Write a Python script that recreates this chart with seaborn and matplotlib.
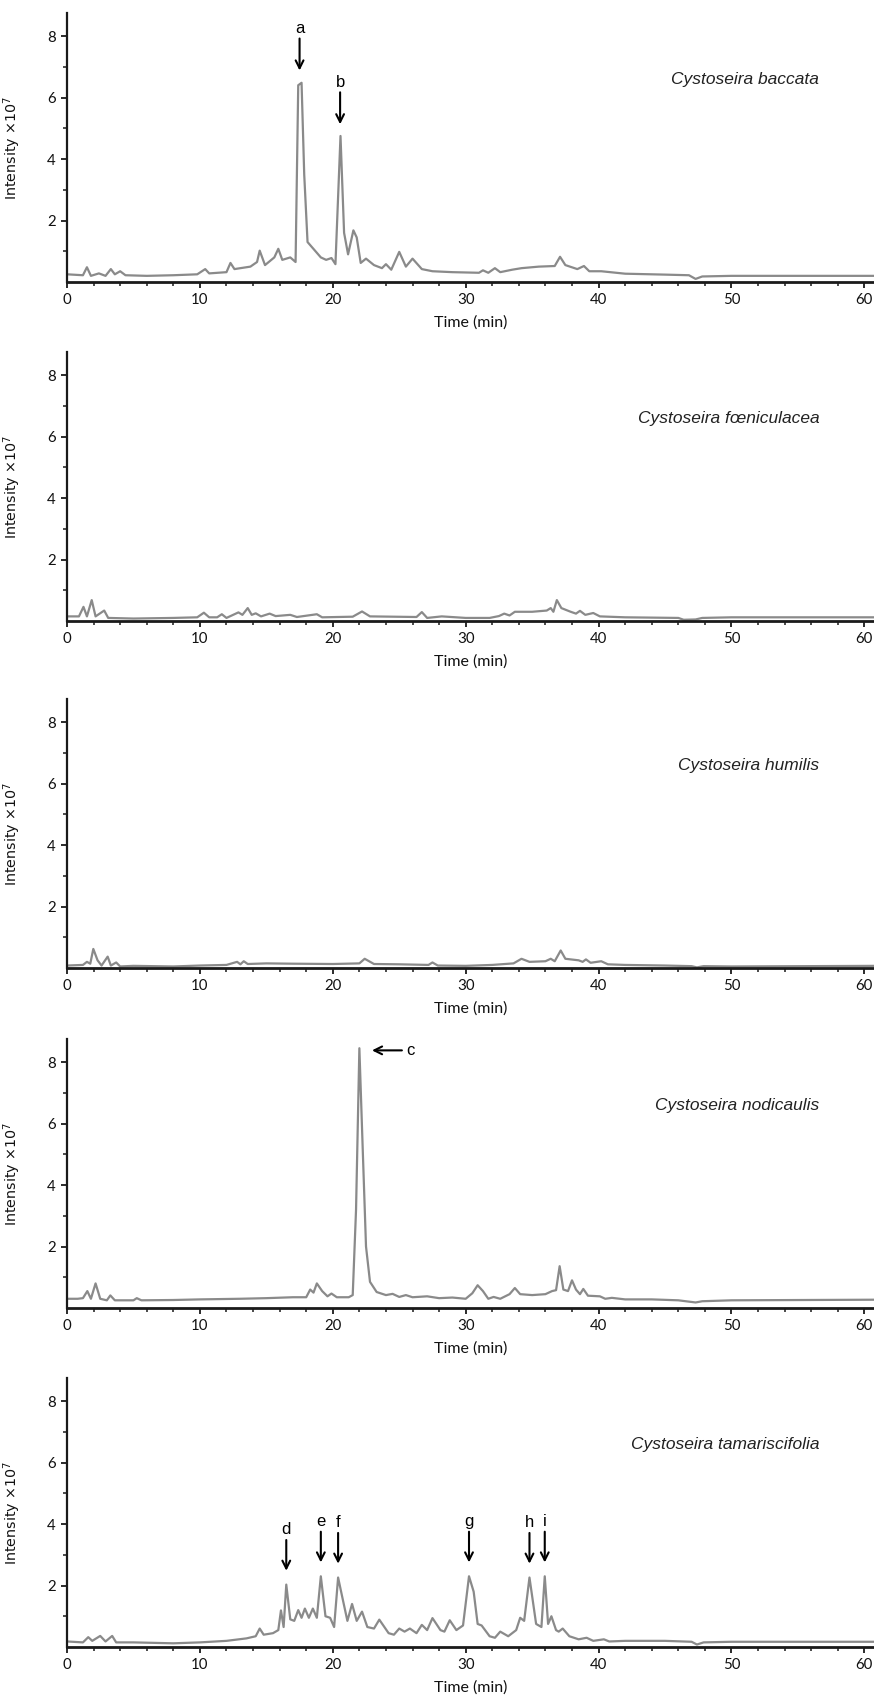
import numpy as np
import pandas as pd
import matplotlib
matplotlib.use("Agg")
import matplotlib.pyplot as plt
from matplotlib.ticker import MultipleLocator, FixedLocator
import seaborn as sns

# ---------------- data (time in min, intensity x10^7) ----------------
species = ["Cystoseira baccata", "Cystoseira fœniculacea", "Cystoseira humilis",
           "Cystoseira nodicaulis", "Cystoseira tamariscifolia"]

baccata = [(0, 0.25), (1.2, 0.22), (1.5, 0.48), (1.8, 0.2), (2.4, 0.28), (2.9, 0.2), (3.3, 0.42),
           (3.6, 0.25), (4.0, 0.35), (4.4, 0.22), (6, 0.2), (8, 0.22), (9.8, 0.25), (10.4, 0.42),
           (10.7, 0.28), (12.0, 0.32), (12.3, 0.62), (12.6, 0.42), (13.8, 0.5), (14.3, 0.65),
           (14.5, 1.02), (14.9, 0.55), (15.6, 0.8), (15.9, 1.08), (16.2, 0.72), (16.8, 0.8),
           (17.2, 0.65), (17.4, 6.4), (17.65, 6.48), (17.85, 3.5), (18.1, 1.3), (18.6, 1.05),
           (19.1, 0.8), (19.5, 0.72), (19.9, 0.78), (20.2, 0.58), (20.58, 4.75), (20.85, 1.6),
           (21.15, 0.9), (21.55, 1.68), (21.8, 1.45), (22.1, 0.62), (22.5, 0.76), (23.1, 0.55),
           (23.7, 0.45), (24.0, 0.58), (24.4, 0.4), (25.0, 0.98), (25.5, 0.5), (26.0, 0.76),
           (26.7, 0.42), (27.5, 0.35), (29, 0.32), (31.0, 0.3), (31.3, 0.38), (31.7, 0.3),
           (32.2, 0.45), (32.6, 0.32), (33.5, 0.4), (34.2, 0.45), (35.5, 0.5), (36.7, 0.52),
           (37.1, 0.82), (37.5, 0.55), (38.4, 0.42), (38.9, 0.52), (39.3, 0.35), (40.2, 0.35),
           (42, 0.27), (45, 0.24), (46.8, 0.22), (47.3, 0.1), (47.8, 0.18), (50, 0.2), (55, 0.2),
           (61, 0.2)]

foeniculacea = [(0, 0.15), (0.9, 0.15), (1.24, 0.46), (1.5, 0.15), (1.86, 0.68), (2.15, 0.15),
                (2.8, 0.34), (3.1, 0.1), (5, 0.08), (8, 0.1), (9.8, 0.12), (10.3, 0.27), (10.7, 0.12),
                (11.3, 0.12), (11.65, 0.22), (12.0, 0.1), (12.5, 0.2), (12.9, 0.28), (13.2, 0.2),
                (13.6, 0.42), (13.9, 0.2), (14.2, 0.25), (14.6, 0.15), (15.25, 0.24), (15.7, 0.16),
                (16.8, 0.2), (17.3, 0.13), (18.8, 0.22), (19.2, 0.12), (21.5, 0.14), (22.2, 0.31),
                (22.8, 0.15), (26.3, 0.13), (26.7, 0.29), (27.1, 0.1), (28.2, 0.15), (30, 0.1),
                (31.8, 0.1), (32.5, 0.16), (32.9, 0.24), (33.3, 0.18), (33.7, 0.3), (35, 0.3),
                (36.1, 0.34), (36.4, 0.42), (36.6, 0.3), (36.86, 0.68), (37.2, 0.42), (37.9, 0.3),
                (38.3, 0.24), (38.6, 0.33), (39.0, 0.2), (39.6, 0.26), (40.1, 0.15), (42, 0.12),
                (46, 0.1), (46.4, 0.04), (47.3, 0.05), (47.8, 0.1), (50, 0.12), (61, 0.12)]

humilis = [(0, 0.08), (1.2, 0.1), (1.5, 0.2), (1.75, 0.14), (1.98, 0.62), (2.3, 0.25), (2.6, 0.08),
           (3.06, 0.37), (3.3, 0.08), (3.7, 0.18), (4.0, 0.05), (5, 0.07), (8, 0.05), (10, 0.08),
           (12, 0.1), (12.8, 0.2), (13.05, 0.12), (13.3, 0.22), (13.6, 0.13), (15, 0.15), (17, 0.14),
           (20, 0.13), (22.0, 0.15), (22.4, 0.3), (23.1, 0.13), (25, 0.12), (27.2, 0.1), (27.5, 0.18),
           (27.9, 0.08), (30, 0.07), (32, 0.1), (33.6, 0.15), (34.2, 0.3), (34.8, 0.2), (36.0, 0.22),
           (36.4, 0.3), (36.7, 0.22), (37.15, 0.57), (37.5, 0.3), (38.5, 0.25), (38.8, 0.2),
           (39.05, 0.28), (39.4, 0.17), (40.2, 0.22), (40.7, 0.12), (42, 0.1), (45, 0.08), (47, 0.06),
           (47.4, 0.02), (47.9, 0.06), (50, 0.05), (61, 0.07)]

nodicaulis = [(0, 0.3), (0.8, 0.3), (1.2, 0.32), (1.53, 0.55), (1.8, 0.3), (2.15, 0.8), (2.5, 0.3),
              (3.0, 0.25), (3.26, 0.41), (3.6, 0.25), (5.0, 0.25), (5.25, 0.32), (5.6, 0.25), (8, 0.26),
              (10, 0.28), (13, 0.3), (15, 0.32), (17, 0.35), (18.0, 0.35), (18.3, 0.6), (18.55, 0.5),
              (18.8, 0.8), (19.2, 0.55), (19.6, 0.38), (19.9, 0.47), (20.3, 0.35), (21.2, 0.35),
              (21.5, 0.42), (21.75, 3.2), (22.0, 8.45), (22.25, 5.2), (22.5, 2.0), (22.8, 0.85),
              (23.3, 0.52), (24.0, 0.42), (24.5, 0.46), (25.0, 0.36), (25.5, 0.42), (26.0, 0.35),
              (27.1, 0.38), (28, 0.32), (29, 0.34), (30.0, 0.3), (30.5, 0.48), (30.9, 0.74),
              (31.3, 0.55), (31.7, 0.3), (32.1, 0.36), (32.6, 0.3), (33.3, 0.45), (33.7, 0.65),
              (34.1, 0.45), (35.0, 0.42), (36.0, 0.45), (36.5, 0.55), (36.8, 0.58), (37.07, 1.36),
              (37.35, 0.6), (37.7, 0.55), (38.0, 0.9), (38.3, 0.6), (38.6, 0.45), (38.85, 0.62),
              (39.2, 0.4), (40.1, 0.38), (40.5, 0.3), (41, 0.33), (42, 0.28), (44, 0.28), (46, 0.25),
              (47.3, 0.18), (47.8, 0.22), (50, 0.25), (61, 0.27)]

tamariscifolia = [(0, 0.18), (1.2, 0.15), (1.6, 0.32), (1.9, 0.2), (2.5, 0.36), (2.9, 0.18), (3.4, 0.36),
                  (3.7, 0.15), (5, 0.15), (8, 0.12), (10, 0.15), (12, 0.2), (13.5, 0.28), (14.2, 0.35),
                  (14.5, 0.6), (14.8, 0.4), (15.5, 0.45), (15.9, 0.55), (16.1, 1.19), (16.3, 0.65),
                  (16.5, 2.03), (16.8, 0.9), (17.1, 0.85), (17.4, 1.2), (17.65, 0.95), (17.9, 1.25),
                  (18.2, 0.95), (18.5, 1.25), (18.8, 0.95), (19.1, 2.3), (19.45, 1.0), (19.8, 0.95),
                  (20.1, 0.65), (20.4, 2.26), (20.75, 1.55), (21.1, 0.85), (21.45, 1.4), (21.8, 0.85),
                  (22.2, 1.15), (22.6, 0.65), (23.1, 0.6), (23.5, 0.89), (24.2, 0.45), (24.6, 0.4),
                  (25.0, 0.6), (25.4, 0.5), (25.8, 0.6), (26.3, 0.45), (26.7, 0.72), (27.1, 0.55),
                  (27.5, 0.94), (28.1, 0.55), (28.4, 0.5), (28.8, 0.87), (29.3, 0.55), (29.8, 0.7),
                  (30.25, 2.3), (30.6, 1.8), (30.9, 0.75), (31.2, 0.7), (31.8, 0.35), (32.2, 0.3),
                  (32.6, 0.5), (33.2, 0.35), (33.8, 0.55), (34.1, 0.95), (34.4, 0.85), (34.8, 2.26),
                  (35.3, 0.75), (35.7, 0.65), (35.95, 2.3), (36.2, 0.75), (36.45, 1.0), (36.8, 0.55),
                  (37.0, 0.5), (37.3, 0.6), (37.8, 0.35), (38.5, 0.25), (39.1, 0.3), (39.6, 0.2),
                  (40.4, 0.25), (40.8, 0.18), (42, 0.2), (45, 0.2), (47, 0.17), (47.4, 0.08),
                  (47.9, 0.15), (50, 0.17), (61, 0.17)]

traces = [baccata, foeniculacea, humilis, nodicaulis, tamariscifolia]

# labelled peaks: (letter, retention time, peak height)
peaks_baccata = [("a", 17.5, 6.5), ("b", 20.55, 4.75)]
peaks_nodicaulis = [("c", 22.0, 8.45)]
peaks_tamariscifolia = [("d", 16.5, 2.03), ("e", 19.1, 2.3), ("f", 20.4, 2.26),
                        ("g", 30.25, 2.3), ("h", 34.8, 2.26), ("i", 35.95, 2.3)]

x_ticks = [0, 10, 20, 30, 40, 50, 60]
y_ticks = [2, 4, 6, 8]

# ---------------- style ----------------
sns.set_theme(style="ticks")
plt.rcParams["font.family"] = ["Liberation Sans", "DejaVu Sans"]

W, H = 874, 1697
fig = plt.figure(figsize=(W / 100, H / 100), dpi=100)

tops = [13, 352, 699, 1039, 1378]
ax_h = 269
left_px = 67
right_px = 875
x_max = 60.8

line_color = "#8a8a8a"
tick_font = dict(family=["Lato", "DejaVu Sans"], size=10.8)

for k, (name, tr) in enumerate(zip(species, traces)):
    top = tops[k]
    ax = fig.add_axes([left_px / W, 1 - (top + ax_h) / H, (right_px - left_px) / W, ax_h / H])
    df = pd.DataFrame(tr, columns=["Time", "Intensity"])
    sns.lineplot(data=df, x="Time", y="Intensity", ax=ax, color=line_color, lw=1.6,
                 estimator=None, sort=False)
    ax.set_xlim(0, x_max)
    ax.set_ylim(0, 8.75)
    sns.despine(ax=ax)
    ax.spines["left"].set_linewidth(1.6)
    ax.spines["bottom"].set_linewidth(2.0)
    ax.spines["left"].set_color("#1a1a1a")
    ax.spines["bottom"].set_color("#1a1a1a")
    ax.xaxis.set_major_locator(FixedLocator(x_ticks))
    ax.xaxis.set_minor_locator(MultipleLocator(2))
    ax.yaxis.set_major_locator(FixedLocator(y_ticks))
    ax.yaxis.set_minor_locator(FixedLocator([1, 3, 5, 7]))
    ax.tick_params(axis="x", which="major", direction="out", length=4, width=1.3,
                   color="#1a1a1a", pad=4)
    ax.tick_params(axis="x", which="minor", direction="out", length=3, width=1.1, color="#1a1a1a")
    ax.tick_params(axis="y", which="major", direction="out", length=4, width=1.3,
                   color="#1a1a1a", pad=4)
    ax.tick_params(axis="y", which="minor", direction="out", length=3, width=1.1, color="#1a1a1a")
    ax.set_xticks(x_ticks)
    ax.set_xticklabels([str(v) for v in x_ticks], fontdict=tick_font, color="#111111")
    ax.set_yticks(y_ticks)
    ax.set_yticklabels([str(v) for v in y_ticks], fontdict=tick_font, color="#111111")
    ax.set_xlabel("Time (min)", fontfamily=["Lato", "DejaVu Sans"], fontsize=11.5,
                  color="#111111", labelpad=6)
    ax.set_ylabel("Intensity ×10$^{7}$", fontfamily="DejaVu Sans", fontsize=10.3,
                  color="#111111", labelpad=8)
    ax.yaxis.set_label_coords(-(left_px - 23) / (right_px - left_px), 0.5)
    ax.text(56.6, 6.6, name, ha="right", va="center", style="italic", fontsize=12.5,
            color="#222222", family=["Liberation Sans", "DejaVu Sans"])
    ax.set_facecolor("white")

    if k == 0:
        for lab, t, h in peaks_baccata:
            ax.annotate("", xy=(t, h + 0.38), xytext=(t, h + 1.42),
                        arrowprops=dict(arrowstyle="->", color="black", lw=1.5,
                                        mutation_scale=14, shrinkA=0, shrinkB=0))
            ax.text(t, h + 1.75, lab, ha="center", va="center", fontsize=12, color="black")
    if k == 3:
        for lab, t, h in peaks_nodicaulis:
            ax.annotate("", xy=(t + 0.95, h - 0.07), xytext=(t + 3.2, h - 0.07),
                        arrowprops=dict(arrowstyle="->", color="black", lw=1.5,
                                        mutation_scale=14, shrinkA=0, shrinkB=0))
            ax.text(t + 3.55, h - 0.07, lab, ha="left", va="center", fontsize=12, color="black")
    if k == 4:
        for lab, t, h in peaks_tamariscifolia:
            ax.annotate("", xy=(t, h + 0.45), xytext=(t, h + 1.45),
                        arrowprops=dict(arrowstyle="->", color="black", lw=1.5,
                                        mutation_scale=14, shrinkA=0, shrinkB=0))
            ax.text(t, h + 1.78, lab, ha="center", va="center", fontsize=12, color="black")

fig.patch.set_facecolor("white")
fig.savefig("out.png", dpi=100, facecolor="white")
